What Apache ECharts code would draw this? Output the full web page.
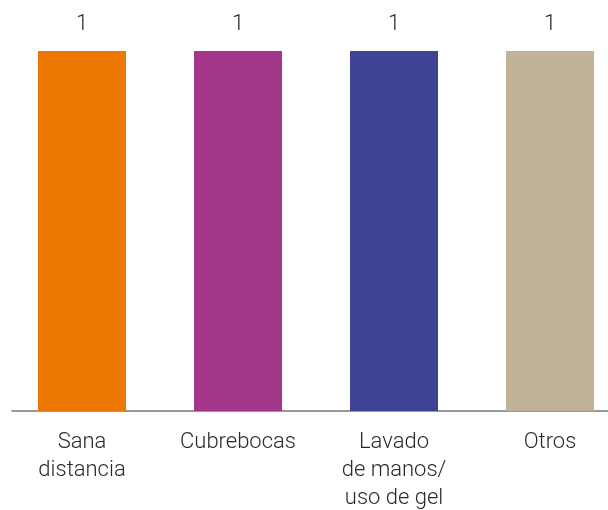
<!DOCTYPE html>
<html>
<head>
<meta charset="utf-8">
<style>
  html, body { margin: 0; padding: 0; background: #fff; }
  #chart { width: 608px; height: 510px; }
</style>
<script src="https://cdn.jsdelivr.net/npm/echarts@6/dist/echarts.min.js"></script>
</head>
<body>
<div id="chart"></div>
<script>
// Chart data
const categories = ['Sana\ndistancia', 'Cubrebocas', 'Lavado\nde manos/\nuso de gel', 'Otros'];
const values = [1, 1, 1, 1];
const barColors = ['#ED7703', '#A4378A', '#3F4393', '#C2B297'];

const chart = echarts.init(document.getElementById('chart'));

const option = {
  animation: false,
  grid: [
    // bars
    { left: 4, width: 624, top: 51, bottom: 99, outerBoundsMode: 'none' },
    // baseline only
    { left: 12, right: 0, top: 51, bottom: 99, outerBoundsMode: 'none' },
  ],
  xAxis: [
    {
      type: 'category',
      gridIndex: 0,
      data: categories,
      axisLine: { show: false },
      axisTick: { show: false },
      axisLabel: {
        interval: 0,
        hideOverlap: false,
        margin: 17,
        fontFamily: 'Roboto',
        fontWeight: 300,
        fontSize: 22,
        lineHeight: 28,
        color: '#2a2a2a',
      },
    },
    {
      type: 'value',
      gridIndex: 1,
      min: 0,
      max: 1,
      axisLine: { show: true, lineStyle: { color: '#777', width: 1.5 } },
      axisTick: { show: false },
      axisLabel: { show: false },
      splitLine: { show: false },
    },
  ],
  yAxis: [
    { type: 'value', gridIndex: 0, min: 0, max: 1, show: false },
    { type: 'value', gridIndex: 1, min: 0, max: 1, show: false },
  ],
  series: [
    {
      type: 'bar',
      xAxisIndex: 0,
      yAxisIndex: 0,
      barWidth: 88,
      data: values.map((v, i) => ({ value: v, itemStyle: { color: barColors[i] } })),
      label: {
        show: true,
        position: 'top',
        distance: 16,
        fontFamily: 'Roboto',
        fontWeight: 300,
        fontSize: 22,
        color: '#2a2a2a',
      },
    },
  ],
};

chart.setOption(option);
</script>
</body>
</html>
